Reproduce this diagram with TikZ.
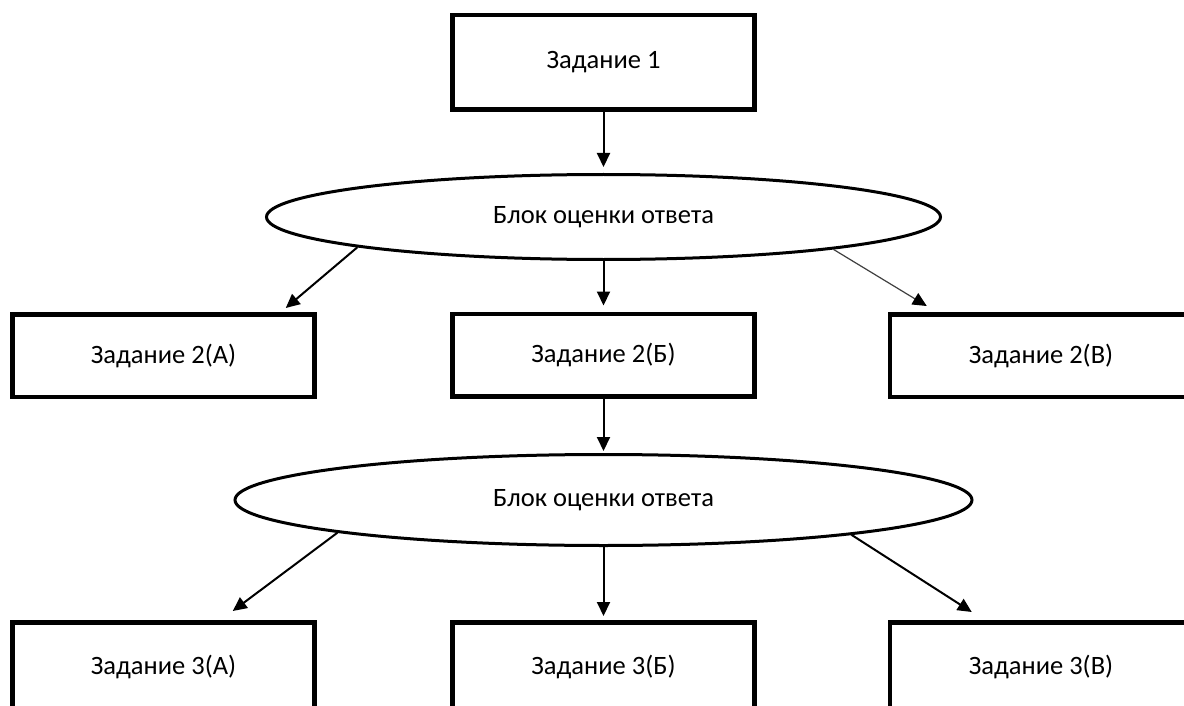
\documentclass[tikz,border=0pt]{standalone}
\usepackage{fontspec}
\setmainfont{Carlito}
\usetikzlibrary{shapes.geometric,arrows.meta,calc}
\begin{document}
\begin{tikzpicture}[x=1pt,y=-1pt,
  box/.style={draw=black,line width=4.5pt,rectangle,inner sep=0pt,minimum width=302pt,minimum height=82.5pt,font=\fontsize{26.5}{30}\selectfont},
  oval/.style={draw=black,line width=3pt,ellipse,inner sep=0pt,font=\fontsize{26.5}{30}\selectfont},
  arr/.style={line width=2pt,-{Triangle[length=14pt,width=13pt]}},
  thinarr/.style={line width=1.2pt,draw=black!75,-{Triangle[length=14pt,width=13pt,color=black]}}]
\clip (0,0) rectangle (1184,706);
\fill[white] (0,0) rectangle (1184,706);
\node[box,minimum height=94.5pt] (b1) at (603.5,62.5) {Задание 1};
\node[oval,minimum width=674pt,minimum height=85pt] (e1) at (603.5,217) {Блок оценки ответа};
\node[box] (b2a) at (163.5,355.5) {Задание 2(А)};
\node[box] (b2b) at (603.5,355) {Задание 2(Б)};
\node[box] (b2c) at (1041,355.5) {Задание 2(В)};
\node[oval,minimum width=737pt,minimum height=91pt] (e2) at (603.5,500) {Блок оценки ответа};
\node[box,minimum height=89.5pt] (b3a) at (163.5,667) {Задание 3(А)};
\node[box,minimum height=89.5pt] (b3b) at (603.5,667) {Задание 3(Б)};
\node[box,minimum height=89.5pt] (b3c) at (1041,667) {Задание 3(В)};
\coordinate (t2a) at ($(b2a.north east)+(-31,-4)$);
\coordinate (t2c) at ($(b2c.north west)+(39,-6)$);
\coordinate (t3a) at ($(b3a.north east)+(-84,-9)$);
\coordinate (t3c) at ($(b3c.north west)+(84,-8)$);
\draw[arr,shorten >=6pt] (b1.south) -- (e1.north);
\draw[arr] (e1.187.2) -- (t2a);
\draw[arr,shorten >=6pt] (e1.south) -- (b2b.north);
\draw[thinarr] (e1.352.8) -- (t2c);
\draw[arr,shorten >=2pt] (b2b.south) -- (e2.north);
\draw[arr] (e2.187.6) -- (t3a);
\draw[arr,shorten >=4pt] (e2.south) -- (b3b.north);
\draw[arr] (e2.352.5) -- (t3c);
\end{tikzpicture}
\end{document}
